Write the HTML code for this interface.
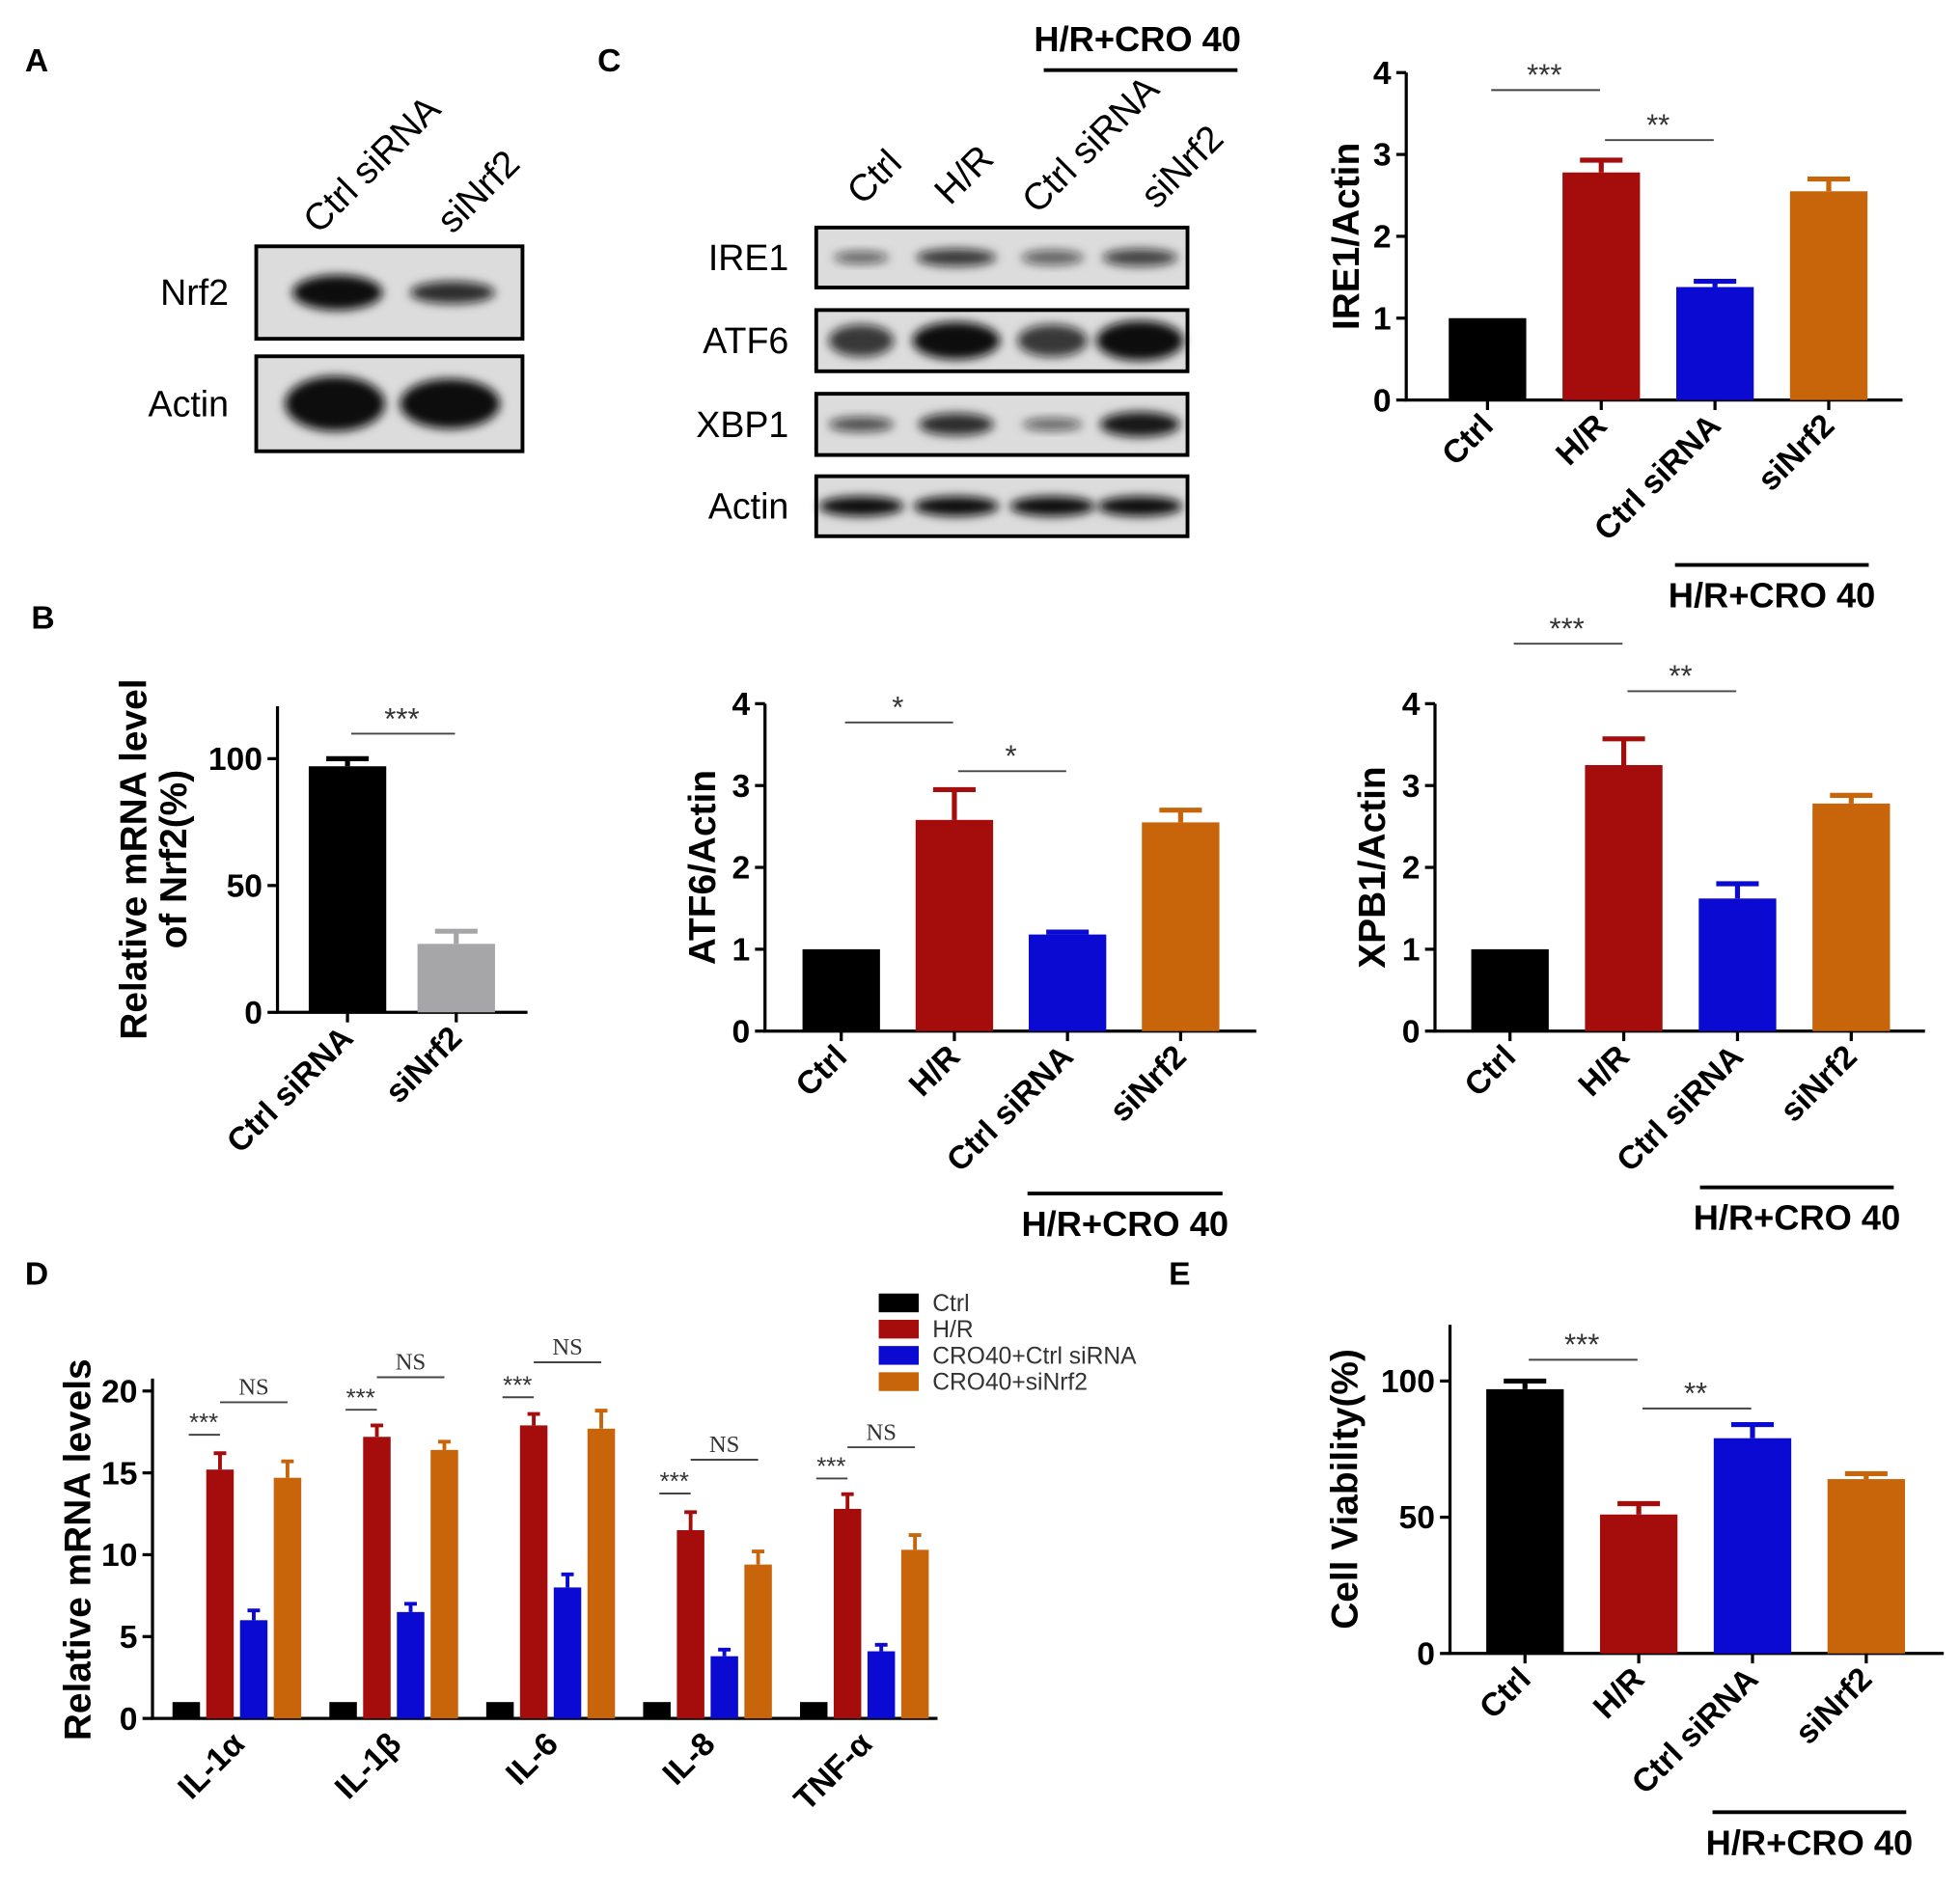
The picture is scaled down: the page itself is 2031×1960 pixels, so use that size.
<!DOCTYPE html>
<html><head><meta charset="utf-8"><style>
html,body{margin:0;padding:0;background:#fff}
svg{display:block;font-family:"Liberation Sans",Arial,sans-serif}
.b{font-weight:bold}
</style></head><body>
<svg id="fig" width="2031" height="1960" viewBox="0 0 1568 1513">
<defs><filter id="blur" x="-20%" y="-50%" width="140%" height="200%"><feGaussianBlur stdDeviation="4"/></filter></defs>
<g font-size="26" font-weight="bold">
<text x="20" y="57">A</text>
<text x="478" y="57">C</text>
<text x="25" y="503">B</text>
<text x="20" y="1028">D</text>
<text x="935" y="1028">E</text>
</g>
<g id="blots"></g>
<g id="charts"></g>
</svg>
<script>
// ---------- data ----------
const ireCats=["Ctrl","H/R","Ctrl siRNA","siNrf2"];
const ireVals=[1.0,2.78,1.38,2.55];
const ireErr=[0,0.15,0.07,0.15];
const atfVals=[1.0,2.58,1.18,2.55];
const atfErr=[0,0.37,0.03,0.15];
const xbpVals=[1.0,3.25,1.62,2.78];
const xbpErr=[0,0.32,0.18,0.1];
const bCats=["Ctrl siRNA","siNrf2"];
const bVals=[97,27];
const bErr=[3,5];
const eVals=[97,51,79,64];
const eErr=[3,4,5,2];
const dGroups=["IL-1\u03b1","IL-1\u03b2","IL-6","IL-8","TNF-\u03b1"];
const dCtrl=[1,1,1,1,1];
const dHR=[15.2,17.2,17.9,11.5,12.8];
const dHRerr=[1.0,0.7,0.7,1.1,0.9];
const dSi=[6.0,6.5,8.0,3.8,4.1];
const dSiErr=[0.6,0.5,0.8,0.4,0.4];
const dNrf=[14.7,16.4,17.7,9.4,10.3];
const dNrfErr=[1.0,0.5,1.1,0.8,0.9];
const dLegend=["Ctrl","H/R","CRO40+Ctrl siRNA","CRO40+siNrf2"];
const cols=["#000000","#a50d0d","#0a0ad2","#c8650a"];
const NS="http://www.w3.org/2000/svg";
function mk(tag,parent,attrs,text){const e=document.createElementNS(NS,tag);for(const k in attrs)e.setAttribute(k,attrs[k]);if(text!==undefined)e.textContent=text;parent.appendChild(e);return e;}
const charts=document.getElementById('charts');
const blots=document.getElementById('blots');

// ---------- blots ----------
function blot(x,y,w,h,label,lanes,name){
  const g=mk('g',blots,{});
  
  
  const r=mk('rect',g,{x:x,y:y,width:w,height:h,fill:'#dcdcdc',stroke:'#000','stroke-width':3});
  
  
  const t=mk('text',g,{x:x-22,y:y+h/2+10,'text-anchor':'end','font-size':29},label);
  
  
  lanes.forEach(l=>{
    const e=mk('ellipse',g,{cx:l[0],cy:y+h/2,rx:l[1],ry:l[2],fill:'#111','fill-opacity':l[3],filter:'url(#blur)'});
    
    
  });
}
blot(205,197,213,74,"Nrf2",[[270,36,14,1],[362,34,9,0.85]],"nrf2-blot");
blot(205,285,213,76,"Actin",[[268,40,22,1],[360,40,20,1]],"actin-blot-a");
blot(653,182,297,48,"IRE1",[[689,22,5,0.6],[765,32,7,0.8],[842,25,6,0.6],[912,30,7,0.75]],"ire1-blot");
blot(653,248,297,49,"ATF6",[[689,26,13,0.8],[765,35,15,1],[842,28,13,0.8],[912,35,16,1]],"atf6-blot");
blot(653,315,297,49,"XBP1",[[689,26,6,0.7],[765,30,9,0.85],[842,24,5,0.6],[912,32,10,0.95]],"xbp1-blot");
blot(653,381,297,48,"Actin",[[689,34,8,1],[765,34,8,1],[842,34,8,1],[912,34,8,1]],"actin-blot-c");
function rotLabel(parent,x,y,txt,size,name){
  const t=mk('text',parent,{x:x,y:y,'text-anchor':'start','font-size':size,transform:`rotate(-45 ${x} ${y})`},txt);
  
  
}
rotLabel(blots,255,188,"Ctrl siRNA",30,"lane-label-ctrl-sirna");
rotLabel(blots,362,188,"siNrf2",30,"lane-label-sinrf2");
rotLabel(blots,690,165,"Ctrl",30,"lane-label-ctrl");
rotLabel(blots,760,165,"H/R",30,"lane-label-hr");
rotLabel(blots,830,172,"Ctrl siRNA",30,"lane-label-c-ctrl-sirna");
rotLabel(blots,925,168,"siNrf2",30,"lane-label-c-sinrf2");
(function(){const t=mk('text',blots,{x:910,y:41,'text-anchor':'middle','font-size':28,'font-weight':'bold'},"H/R+CRO 40");

const l=mk('line',blots,{x1:835,x2:990,y1:56,y2:56,stroke:'#000','stroke-width':3});
})();

// ---------- bar chart ----------
function barChart(o){
  const g=mk('g',charts,{});
  
  
  const ys=v=>o.y0-(v-0)*(o.y0-o.yTop)/(o.vTop);
  const n=o.vals.length;
  const xs=i=>o.xc0+i*o.step;
  // axes
  const ax=mk('path',g,{d:`M${o.ax} ${o.axTop} V${o.y0} H${o.axRight}`,fill:'none',stroke:'#000','stroke-width':2.5});
  
  
  o.ticks.forEach(t=>{
    const tl=mk('line',g,{x1:o.ax-8,x2:o.ax,y1:ys(t),y2:ys(t),stroke:'#000','stroke-width':2.5});
    
    
    const tt=mk('text',g,{x:o.ax-12,y:ys(t)+9,'text-anchor':'end','font-size':o.tickSize||26,'font-weight':'bold'},t);
    
    
  });
  for(let i=0;i<n;i++){
    const x=xs(i),v=o.vals[i],e=o.err[i];
    if(e>0){
      const el=mk('path',g,{d:`M${x} ${ys(v)} V${ys(v+e)} M${x-o.bw/2+14} ${ys(v+e)} H${x+o.bw/2-14}`,stroke:o.colors[i],'stroke-width':4,fill:'none'});
      
      
    }
    const r=mk('rect',g,{x:x-o.bw/2,y:ys(v),width:o.bw,height:o.y0-ys(v),fill:o.colors[i]});
    
    
    const tk=mk('line',g,{x1:x,x2:x,y1:o.y0,y2:o.y0+8,stroke:'#000','stroke-width':2.5});
    
    
    const L=o.cats[i];
    const tx=x+6,ty=o.y0+22;
    const t=mk('text',g,{x:tx,y:ty,'text-anchor':'end','font-size':26,'font-weight':'bold',transform:`rotate(-45 ${tx} ${ty})`},L);
    
    
  }
  const yl=mk('text',g,{x:o.ylx,y:(o.y0+o.axTop)/2,'text-anchor':'middle','font-size':30,'font-weight':'bold',transform:`rotate(-90 ${o.ylx} ${(o.y0+o.axTop)/2})`},o.ylabel);
  
  
  if(o.ylabel2){const y2=mk('text',g,{x:o.ylx+32,y:(o.y0+o.axTop)/2,'text-anchor':'middle','font-size':30,'font-weight':'bold',transform:`rotate(-90 ${o.ylx+32} ${(o.y0+o.axTop)/2})`},o.ylabel2);
  }
  (o.sig||[]).forEach(s=>{
    const l=mk('line',g,{x1:xs(s[0])+3,x2:xs(s[1])-1,y1:s[2],y2:s[2],stroke:'#444','stroke-width':1.5});
    
    
    const t=mk('text',g,{x:(xs(s[0])+xs(s[1]))/2,y:s[2]-4,'text-anchor':'middle','font-size':24,fill:'#333'},s[3]);
    
    
  });
  if(o.group){
    const l=mk('line',g,{x1:o.group[0],x2:o.group[1],y1:o.group[2],y2:o.group[2],stroke:'#000','stroke-width':3});
    
    
    const t=mk('text',g,{x:(o.group[0]+o.group[1])/2,y:o.group[2]+34,'text-anchor':'middle','font-size':28,'font-weight':'bold'},"H/R+CRO 40");
    
    
  }
}
barChart({name:'ire1-chart',cats:ireCats,vals:ireVals,err:ireErr,colors:cols,ax:1125,axTop:58,axRight:1522,y0:320,yTop:58,vTop:4,xc0:1190,step:91,bw:62,ticks:[0,1,2,3,4],ylx:1087,ylabel:'IRE1/Actin',sig:[[0,1,72,'***'],[1,2,112,'**']],group:[1340,1495,452]});
barChart({name:'atf6-chart',cats:ireCats,vals:atfVals,err:atfErr,colors:cols,ax:612,axTop:563,axRight:1005,y0:825,yTop:563,vTop:4,xc0:673,step:90.5,bw:62,ticks:[0,1,2,3,4],ylx:572,ylabel:'ATF6/Actin',sig:[[0,1,578,'*'],[1,2,617,'*']],group:[822,978,955]});
barChart({name:'xbp1-chart',cats:ireCats,vals:xbpVals,err:xbpErr,colors:cols,ax:1148,axTop:563,axRight:1540,y0:825,yTop:563,vTop:4,xc0:1208,step:91,bw:62,ticks:[0,1,2,3,4],ylx:1108,ylabel:'XPB1/Actin',sig:[[0,1,515,'***'],[1,2,553,'**']],group:[1360,1515,950]});
barChart({name:'nrf2-mrna-chart',cats:bCats,vals:bVals,err:bErr,colors:['#000','#a6a6a8'],ax:222,axTop:565,axRight:422,y0:810,yTop:607,vTop:100,xc0:278,step:87,bw:62,ticks:[0,50,100],ylx:117,ylabel:'Relative mRNA level',ylabel2:'of Nrf2(%)',sig:[[0,1,587,'***']]});
barChart({name:'viability-chart',cats:ireCats,vals:eVals,err:eErr,colors:cols,ax:1160,axTop:1060,axRight:1555,y0:1323,yTop:1105,vTop:100,xc0:1220,step:91,bw:62,ticks:[0,50,100],ylx:1086,ylabel:'Cell Viability(%)',sig:[[0,1,1088,'***'],[1,2,1127,'**']],group:[1370,1525,1450]});

// ---------- grouped chart D ----------
(function(){
  const g=mk('g',charts,{});
  
  
  const ax=122,y0=1375,yTop=1113,vTop=20;
  const ys=v=>y0-v*(y0-yTop)/vTop;
  const a=mk('path',g,{d:`M${ax} 1103 V${y0} H750`,fill:'none',stroke:'#000','stroke-width':2.5});
  
  
  [0,5,10,15,20].forEach(t=>{
    const tl=mk('line',g,{x1:ax-8,x2:ax,y1:ys(t),y2:ys(t),stroke:'#000','stroke-width':2.5});
    
    
    const tt=mk('text',g,{x:ax-12,y:ys(t)+9,'text-anchor':'end','font-size':26,'font-weight':'bold'},t);
    
    
  });
  const series=[[dCtrl,dCtrl.map(()=>0)],[dHR,dHRerr],[dSi,dSiErr],[dNrf,dNrfErr]];
  const sigY=[[1148,1122],[1128,1102],[1118,1090],[1195,1168],[1183,1158]];
  dGroups.forEach((gn,gi)=>{
    const base=149+gi*125.5;
    series.forEach((s,si)=>{
      const x=base+si*27,v=s[0][gi],e=s[1][gi];
      if(e>0){
        const el=mk('path',g,{d:`M${x} ${ys(v)} V${ys(v+e)} M${x-5} ${ys(v+e)} H${x+5}`,stroke:cols[si],'stroke-width':3,fill:'none'});
        
        
      }
      const r=mk('rect',g,{x:x-11,y:ys(v),width:22,height:y0-ys(v),fill:cols[si]});
      
      
    });
    const c=base+40;
    const tx=c+8,ty=y0+22;
    const t=mk('text',g,{x:tx,y:ty,'text-anchor':'end','font-size':26,'font-weight':'bold',transform:`rotate(-45 ${tx} ${ty})`},gn);
    
    
    const l1=mk('line',g,{x1:base+2,x2:base+27,y1:sigY[gi][0],y2:sigY[gi][0],stroke:'#444','stroke-width':1.5});
    
    
    const t1=mk('text',g,{x:base+14,y:sigY[gi][0]-3,'text-anchor':'middle','font-size':20,fill:'#333'},'***');
    
    
    const l2=mk('line',g,{x1:base+27,x2:base+81,y1:sigY[gi][1],y2:sigY[gi][1],stroke:'#444','stroke-width':1.5});
    
    
    const t2=mk('text',g,{x:base+54,y:sigY[gi][1]-6,'text-anchor':'middle','font-size':19,fill:'#333','font-family':'Liberation Serif'},'NS');
    
    
  });
  const yl=mk('text',g,{x:72,y:1240,'text-anchor':'middle','font-size':30,'font-weight':'bold',transform:'rotate(-90 72 1240)'},'Relative mRNA levels');
  
  
  dLegend.forEach((n,i)=>{
    const y=1035+i*21;
    const r=mk('rect',g,{x:703,y:y,width:32,height:15,fill:cols[i]});
    
    
    const t=mk('text',g,{x:746,y:y+14,'font-size':19,fill:'#333'},n);
    
    
  });
})();
</script>
</body></html>
